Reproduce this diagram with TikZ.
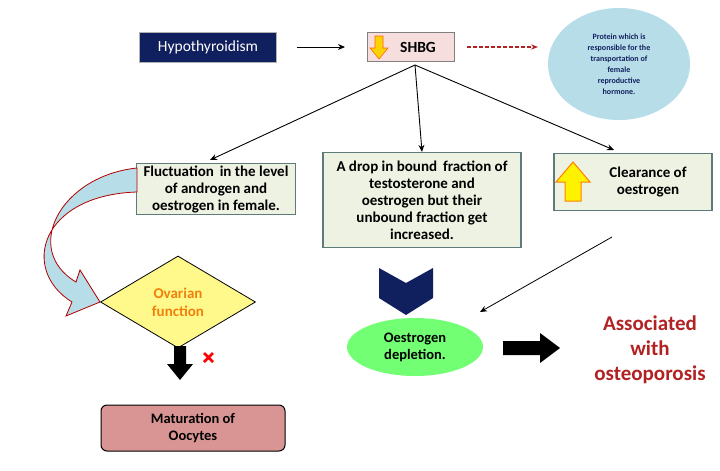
\documentclass[tikz,border=0pt]{standalone}
\usepackage{fontspec}
\setmainfont{Carlito}
\usetikzlibrary{shapes.geometric,arrows.meta}
\definecolor{navy}{HTML}{10205E}
\definecolor{boxfill}{HTML}{EEF2E2}
\definecolor{boxline}{HTML}{5F7A7A}
\definecolor{pinkbox}{HTML}{F6DEDE}
\definecolor{cloud}{HTML}{B7DDE8}
\definecolor{dred}{HTML}{B22222}
\definecolor{matf}{HTML}{D99594}
\tikzset{
  box/.style={draw=boxline,line width=1.2pt,fill=boxfill,align=center,font=\bfseries\fontsize{15}{17}\selectfont,inner sep=2pt},
  conn/.style={-{Stealth[length=7pt,width=6pt]},line width=0.9pt}
}
\begin{document}
\begin{tikzpicture}[x=1pt,y=-1pt]
\useasboundingbox (0,0) rectangle (720,471);
\fill[white] (0,0) rectangle (720,471);
\node[draw=gray!60,line width=1pt,fill=navy,text=white,minimum width=137pt,minimum height=30pt,font=\fontsize{15.5}{16}\selectfont] (hypo) at (208,47) {Hypothyroidism};
\node[draw=gray,line width=1pt,fill=pinkbox,minimum width=87pt,minimum height=29pt,font=\bfseries\fontsize{15.5}{16}\selectfont,text depth=0pt] (shbg) at (411,47) {\hspace{14pt}SHBG};
\draw[fill=yellow!70!orange,draw=orange!80!red,line width=0.6pt] (375,36) -- (383,36) -- (383,48) -- (388,48) -- (379,59) -- (370,48) -- (375,48) -- cycle;
\node[ellipse,fill=cloud,minimum width=142pt,minimum height=112pt,align=center,font=\bfseries\fontsize{8}{11}\selectfont,text=navy] (prot) at (619,64) {Protein which is\\responsible for the\\transportation of\\female\\reproductive\\hormone.};
\draw[conn] ([xshift=20pt]hypo.east) -- ([xshift=-22pt]shbg.west);
\draw[-{Stealth[length=7pt]},dred,dash pattern=on 4pt off 2pt,line width=1.3pt] ([xshift=12pt]shbg.east) -- (538,47);
\node[box,minimum width=159pt,minimum height=48pt] (b1) at (216,189) {Fluctuation\, in the level\\of androgen and\\oestrogen in female.};
\node[box,minimum width=198pt,minimum height=95pt] (b2) at (422,200) {A drop in bound\, fraction of\\testosterone and\\oestrogen but their\\unbound fraction get\\increased.};
\node[box,minimum width=158pt,minimum height=57pt] (b3) at (633,182) {\hspace{30pt}Clearance of\\\hspace{30pt}oestrogen};
\draw[fill=yellow,draw=orange,line width=1pt] (565,201) -- (565,182) -- (556,182) -- (573,162) -- (590,182) -- (581,182) -- (581,201) -- cycle;
\coordinate (s) at (415,65);
\draw[conn] (s) -- (210,160);
\draw[conn] (s) -- (b2.north);
\draw[conn] (s) -- (614,150);
\draw[fill=cloud,draw=red!70!black,line width=0.8pt]
  (137,168) .. controls (60,176) and (22,250) .. (76,282) -- (80,270) -- (100,302) -- (66,316)
  -- (72,302) .. controls (20,270) and (40,195) .. (137,192) -- cycle;
\node[diamond,draw=black,line width=0.8pt,fill=yellow!45,aspect=1.65,minimum width=155pt,minimum height=92pt,inner sep=0pt,align=center,text=orange!80!brown,font=\bfseries\fontsize{15}{18}\selectfont] (ov) at (178,302) {Ovarian\\function};
\fill[navy] (379,268) -- (406,283) -- (433,268) -- (433,298) -- (406,315) -- (379,298) -- cycle;
\node[ellipse,fill=green!55!white,minimum width=136pt,minimum height=58pt,inner sep=0pt,align=center,font=\bfseries\fontsize{14.5}{17}\selectfont] (oe) at (415,347) {Oestrogen\\depletion.};
\draw[conn,line width=0.8pt] (612,237) -- (480,312);
\fill[black] (503,341) -- (540,341) -- (540,333) -- (560,348) -- (540,363) -- (540,355) -- (503,355) -- cycle;
\node[align=center,text=dred,font=\bfseries\fontsize{21}{25}\selectfont] (assoc) at (650,350) {Associated\\with\\osteoporosis};
\fill[black] (174,346) -- (186,346) -- (186,364) -- (193,364) -- (180,380) -- (167,364) -- (174,364) -- cycle;
\draw[red,line width=2.5pt] (204,353) -- (213,362) (213,353) -- (204,362);
\node[draw=black,line width=1pt,rounded corners=6pt,fill=matf,minimum width=184pt,minimum height=46pt,align=center,font=\bfseries\fontsize{14.5}{17}\selectfont] (mat) at (193,428) {Maturation of\\Oocytes};
\end{tikzpicture}
\end{document}
